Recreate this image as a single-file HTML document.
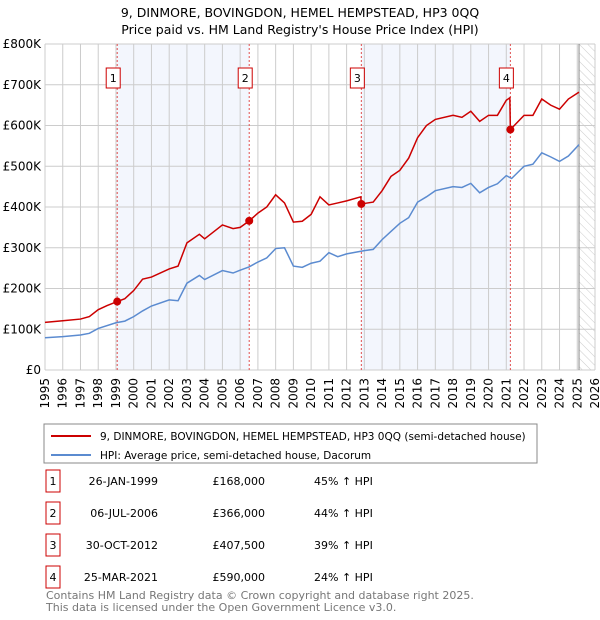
<!DOCTYPE html>
<html><head><meta charset="utf-8"><style>
body{margin:0;background:#fff;font-family:"Liberation Sans","DejaVu Sans",sans-serif;}
#wrap{position:relative;width:600px;height:620px;overflow:hidden;}
text{font-family:"DejaVu Sans","Liberation Sans",sans-serif;}
</style></head><body><div id="wrap">
<svg id="svg" width="600" height="620" xmlns="http://www.w3.org/2000/svg">
<defs><pattern id="hatch" width="6" height="6" patternUnits="userSpaceOnUse" patternTransform="rotate(-45)"><line x1="0" y1="0" x2="0" y2="6" stroke="#ccc" stroke-width="1"/></pattern></defs>
<text x="300" y="17" text-anchor="middle" font-size="12.5" fill="#000">9, DINMORE, BOVINGDON, HEMEL HEMPSTEAD, HP3 0QQ</text>
<text x="300" y="34" text-anchor="middle" font-size="12.5" fill="#000">Price paid vs. HM Land Registry's House Price Index (HPI)</text>
<g id="plot"></g>
<rect x="44" y="424" width="493" height="39" fill="#fff" stroke="#888"/>
<line x1="51" y1="436" x2="91" y2="436" stroke="#cc0000" stroke-width="2"/>
<text x="100" y="440" font-size="10.5">9, DINMORE, BOVINGDON, HEMEL HEMPSTEAD, HP3 0QQ (semi-detached house)</text>
<line x1="51" y1="455" x2="91" y2="455" stroke="#5b8bd0" stroke-width="2"/>
<text x="100" y="459" font-size="10.5">HPI: Average price, semi-detached house, Dacorum</text>
<g id="tbl"></g>
<text x="46" y="599" font-size="11" fill="#777">Contains HM Land Registry data © Crown copyright and database right 2025.</text>
<text x="46" y="611" font-size="11" fill="#777">This data is licensed under the Open Government Licence v3.0.</text>
</svg></div>
<script>
const hpiYears=[1995,1996,1997,1997.5,1998,1999,1999.5,2000,2000.5,2001,2002,2002.5,2003,2003.7,2004,2005,2005.6,2006,2006.5,2007,2007.5,2008,2008.5,2009,2009.5,2010,2010.5,2011,2011.5,2012,2013,2013.5,2014,2014.5,2015,2015.5,2016,2016.5,2017,2018,2018.5,2019,2019.5,2020,2020.5,2021,2021.3,2022,2022.5,2023,2023.5,2024,2024.5,2025.1];
const hpiValues=[79,82,86,90,102,116,120,131,145,157,172,170,213,232,222,244,238,245,253,265,275,298,300,255,252,262,267,288,278,285,293,296,320,340,360,374,412,425,440,450,448,458,435,448,457,477,470,500,505,533,523,512,525,553];
const ppYears=[1995,1996,1997,1997.5,1998,1998.5,1999.07,1999.5,2000,2000.5,2001,2002,2002.5,2003,2003.7,2004,2005,2005.6,2006,2006.51,2007,2007.5,2008,2008.5,2009,2009.5,2010,2010.5,2011,2011.5,2012,2012.8,2012.83,2013.5,2014,2014.5,2015,2015.5,2016,2016.5,2017,2018,2018.5,2019,2019.5,2020,2020.5,2021,2021.2,2021.23,2022,2022.5,2023,2023.5,2024,2024.5,2025.1];
const ppValues=[117,121,125,131,148,158,168,175,195,223,228,248,255,312,333,322,356,347,350,366,385,400,430,410,363,365,382,425,405,410,415,425,407.5,412,440,475,490,520,570,600,615,625,620,635,610,625,625,662,668,590,625,625,665,650,640,665,682];
const saleYears=[1999.07,2006.51,2012.83,2021.23];
const saleValues=[168000,366000,407500,590000];
const saleDates=["26-JAN-1999","06-JUL-2006","30-OCT-2012","25-MAR-2021"];
const salePrices=["£168,000","£366,000","£407,500","£590,000"];
const salePct=["45% \u2191 HPI","44% \u2191 HPI","39% \u2191 HPI","24% \u2191 HPI"];
const yTicks=[0,100,200,300,400,500,600,700,800];
const yTickLabels=["£0","£100K","£200K","£300K","£400K","£500K","£600K","£700K","£800K"];
const xTicks=[1995,1996,1997,1998,1999,2000,2001,2002,2003,2004,2005,2006,2007,2008,2009,2010,2011,2012,2013,2014,2015,2016,2017,2018,2019,2020,2021,2022,2023,2024,2025,2026];
const X0=45,X1=595,Y0=370,Y1=44;
const xs=t=>X0+(t-1995)/(2026-1995)*(X1-X0);
const ys=v=>Y0-v/800*(Y0-Y1);
const NS="http://www.w3.org/2000/svg";
const g=document.getElementById('plot');
function mk(tag,attrs,parent){const e=document.createElementNS(NS,tag);for(const k in attrs)e.setAttribute(k,attrs[k]);(parent||g).appendChild(e);return e;}
let e;
e=mk('rect',{x:X0,y:Y1,width:X1-X0,height:Y0-Y1,fill:'#fff'});


for(let i=0;i<4;i+=2){e=mk('rect',{x:xs(saleYears[i]),y:Y1,width:xs(saleYears[i+1])-xs(saleYears[i]),height:Y0-Y1,fill:'#f3f6fd'});

}
e=mk('rect',{x:xs(2025.1),y:Y1,width:X1-xs(2025.1),height:Y0-Y1,fill:'url(#hatch)'});


xTicks.forEach(t=>{e=mk('line',{x1:xs(t),x2:xs(t),y1:Y1,y2:Y0,stroke:'#ccc','stroke-width':1});


e=mk('text',{x:0,y:0,'font-size':12,'text-anchor':'end',transform:`translate(${xs(t)+4},${Y0+8}) rotate(-90)`});e.textContent=t;

});
yTicks.forEach((v,i)=>{e=mk('line',{x1:X0,x2:X1,y1:ys(v),y2:ys(v),stroke:'#ccc','stroke-width':1});


e=mk('text',{x:X0-4,y:ys(v)+4,'font-size':12,'text-anchor':'end'});e.textContent=yTickLabels[i];

});
e=mk('line',{x1:xs(2025.1),x2:xs(2025.1),y1:Y1,y2:Y0,stroke:'#888','stroke-width':1});


saleYears.forEach((t,i)=>{e=mk('line',{x1:xs(t),x2:xs(t),y1:Y1,y2:Y0,stroke:'#e05050','stroke-width':1,'stroke-dasharray':'2,2'});


e=mk('rect',{x:xs(t)-11,y:68,width:14,height:20,fill:'#fff',stroke:'#cc0000'});


e=mk('text',{x:xs(t)-4,y:82,'font-size':11,'text-anchor':'middle'});e.textContent=i+1;

});
e=mk('polyline',{points:hpiYears.map((t,i)=>xs(t)+','+ys(hpiValues[i])).join(' '),fill:'none',stroke:'#5b8bd0','stroke-width':1.5});


e=mk('polyline',{points:ppYears.map((t,i)=>xs(t)+','+ys(ppValues[i])).join(' '),fill:'none',stroke:'#cc0000','stroke-width':1.5});


saleYears.forEach((t,i)=>{e=mk('circle',{cx:xs(t),cy:ys(saleValues[i]/1000),r:4,fill:'#cc0000'});

});
const tb=document.getElementById('tbl');
saleDates.forEach((d,i)=>{const y=481+i*32;
e=mk('rect',{x:46,y:y-11,width:14,height:22,fill:'#fff',stroke:'#cc0000'},tb);


e=mk('text',{x:53,y:y+4,'font-size':11,'text-anchor':'middle'},tb);e.textContent=i+1;


e=mk('text',{x:158,y:y+4,'font-size':11,'text-anchor':'end'},tb);e.textContent=d;


e=mk('text',{x:265,y:y+4,'font-size':11,'text-anchor':'end'},tb);e.textContent=salePrices[i];


e=mk('text',{x:314,y:y+4,'font-size':11},tb);e.textContent=salePct[i];

});
</script></body></html>
